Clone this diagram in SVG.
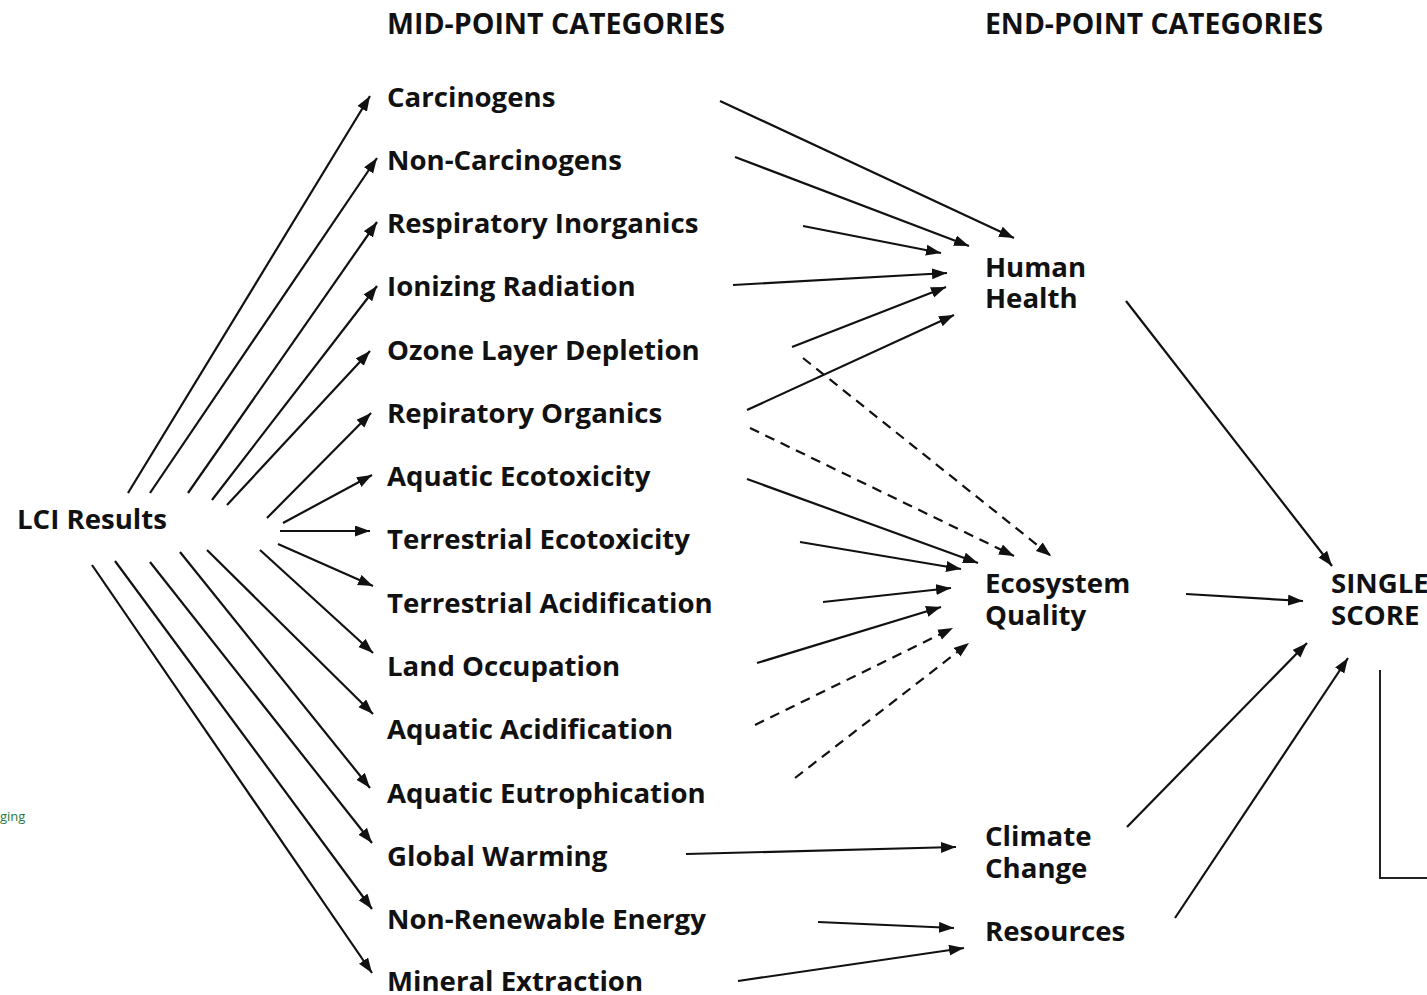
<svg xmlns="http://www.w3.org/2000/svg" width="1427" height="995" viewBox="0 0 1427 995">
  <style>
    .lbl { font-family: "Open Sans", "Liberation Sans", sans-serif; font-weight: 700; font-size: 27.6px; fill: #111; }
    .hdr { font-family: "Open Sans", "Liberation Sans", sans-serif; font-weight: 700; font-size: 28px; fill: #111; }
    .note { font-family: "Open Sans", "Liberation Sans", sans-serif; font-size: 13px; fill: #1f7a3f; }
    .ln { stroke: #111; stroke-width: 2.2; fill: none; marker-end: url(#ah); }
    .dash { stroke-dasharray: 10 7; }
  </style>
  <defs>
    <marker id="ah" markerUnits="userSpaceOnUse" markerWidth="16" markerHeight="12" refX="15" refY="5.5" orient="auto">
      <path d="M0,0 L15,5.5 L0,11 z" fill="#111"/>
    </marker>
  </defs>
  <rect width="1427" height="995" fill="#fff"/>

  <!-- column headings -->
  <g id="headers">
    <text class="hdr" x="387" y="34" textLength="338" lengthAdjust="spacingAndGlyphs">MID-POINT CATEGORIES</text>
    <text class="hdr" x="985" y="34" textLength="338" lengthAdjust="spacingAndGlyphs">END-POINT CATEGORIES</text>
  </g>

  <!-- inventory source -->
  <g id="lci"><text class="lbl" x="17" y="529">LCI Results</text></g>

  <!-- mid-point categories -->
  <g id="mid-carcinogens"><text class="lbl" x="387" y="107">Carcinogens</text></g>
  <g id="mid-noncarcinogens"><text class="lbl" x="387" y="170">Non-Carcinogens</text></g>
  <g id="mid-resp-inorganics"><text class="lbl" x="387" y="233">Respiratory Inorganics</text></g>
  <g id="mid-ionizing"><text class="lbl" x="387" y="296">Ionizing Radiation</text></g>
  <g id="mid-ozone"><text class="lbl" x="387" y="360">Ozone Layer Depletion</text></g>
  <g id="mid-resp-organics"><text class="lbl" x="387" y="423">Repiratory Organics</text></g>
  <g id="mid-aq-ecotox"><text class="lbl" x="387" y="486">Aquatic Ecotoxicity</text></g>
  <g id="mid-terr-ecotox"><text class="lbl" x="387" y="549">Terrestrial Ecotoxicity</text></g>
  <g id="mid-terr-acid"><text class="lbl" x="387" y="613">Terrestrial Acidification</text></g>
  <g id="mid-land"><text class="lbl" x="387" y="676">Land Occupation</text></g>
  <g id="mid-aq-acid"><text class="lbl" x="387" y="739">Aquatic Acidification</text></g>
  <g id="mid-aq-eutro"><text class="lbl" x="387" y="803">Aquatic Eutrophication</text></g>
  <g id="mid-gw"><text class="lbl" x="387" y="866">Global Warming</text></g>
  <g id="mid-nre"><text class="lbl" x="387" y="929">Non-Renewable Energy</text></g>
  <g id="mid-mineral"><text class="lbl" x="387" y="991">Mineral Extraction</text></g>

  <!-- end-point categories -->
  <g id="end-human-health"><text class="lbl" x="985" y="277">Human</text><text class="lbl" x="985" y="308">Health</text></g>
  <g id="end-ecosystem"><text class="lbl" x="985" y="593">Ecosystem</text><text class="lbl" x="985" y="625">Quality</text></g>
  <g id="end-climate"><text class="lbl" x="985" y="846">Climate</text><text class="lbl" x="985" y="878">Change</text></g>
  <g id="end-resources"><text class="lbl" x="985" y="941">Resources</text></g>
  <g id="single-score"><text class="lbl" x="1331" y="593">SINGLE</text><text class="lbl" x="1331" y="625">SCORE</text></g>

  <!-- side note and frame edge -->
  <g id="side-note"><text class="note" x="0" y="821">ging</text></g>
  <g id="frame"><path d="M1380,670 V878 H1427" stroke="#222" stroke-width="2" fill="none"/></g>

  <g id="connectors">
    <!-- LCI results to mid-points -->
    <line class="ln" x1="128" y1="493" x2="370" y2="96"/>
    <line class="ln" x1="150" y1="493" x2="377" y2="158"/>
    <line class="ln" x1="188" y1="493" x2="377" y2="222"/>
    <line class="ln" x1="212" y1="500" x2="377" y2="286"/>
    <line class="ln" x1="227" y1="505" x2="370" y2="351"/>
    <line class="ln" x1="267" y1="518" x2="371" y2="413"/>
    <line class="ln" x1="283" y1="523" x2="372" y2="475"/>
    <line class="ln" x1="280" y1="531" x2="370" y2="531"/>
    <line class="ln" x1="278" y1="544" x2="373" y2="586"/>
    <line class="ln" x1="260" y1="550" x2="373" y2="653"/>
    <line class="ln" x1="207" y1="550" x2="373" y2="714"/>
    <line class="ln" x1="180" y1="552" x2="370" y2="788"/>
    <line class="ln" x1="150" y1="562" x2="372" y2="843"/>
    <line class="ln" x1="115" y1="561" x2="372" y2="909"/>
    <line class="ln" x1="92" y1="565" x2="372" y2="973"/>

    <!-- mid-points to Human Health -->
    <line class="ln" x1="720" y1="101" x2="1014" y2="238"/>
    <line class="ln" x1="735" y1="157" x2="969" y2="246"/>
    <line class="ln" x1="803" y1="226" x2="941" y2="253"/>
    <line class="ln" x1="733" y1="285" x2="947" y2="273"/>
    <line class="ln" x1="792" y1="347" x2="946" y2="287"/>
    <line class="ln" x1="747" y1="410" x2="954" y2="315"/>

    <!-- mid-points to Ecosystem Quality -->
    <line class="ln dash" x1="803" y1="358" x2="1051" y2="556"/>
    <line class="ln dash" x1="750" y1="428" x2="1014" y2="556"/>
    <line class="ln" x1="747" y1="479" x2="978" y2="563"/>
    <line class="ln" x1="800" y1="542" x2="961" y2="569"/>
    <line class="ln" x1="823" y1="602" x2="951" y2="588"/>
    <line class="ln" x1="757" y1="663" x2="941" y2="607"/>
    <line class="ln dash" x1="755" y1="725" x2="953" y2="628"/>
    <line class="ln dash" x1="795" y1="778" x2="969" y2="643"/>

    <!-- mid-points to Climate Change and Resources -->
    <line class="ln" x1="686" y1="854" x2="956" y2="847"/>
    <line class="ln" x1="818" y1="922" x2="954" y2="928"/>
    <line class="ln" x1="738" y1="981" x2="964" y2="948"/>

    <!-- end-points to Single Score -->
    <line class="ln" x1="1126" y1="301" x2="1332" y2="566"/>
    <line class="ln" x1="1186" y1="594" x2="1303" y2="601"/>
    <line class="ln" x1="1127" y1="827" x2="1307" y2="643"/>
    <line class="ln" x1="1175" y1="918" x2="1348" y2="658"/>
  </g>
</svg>
